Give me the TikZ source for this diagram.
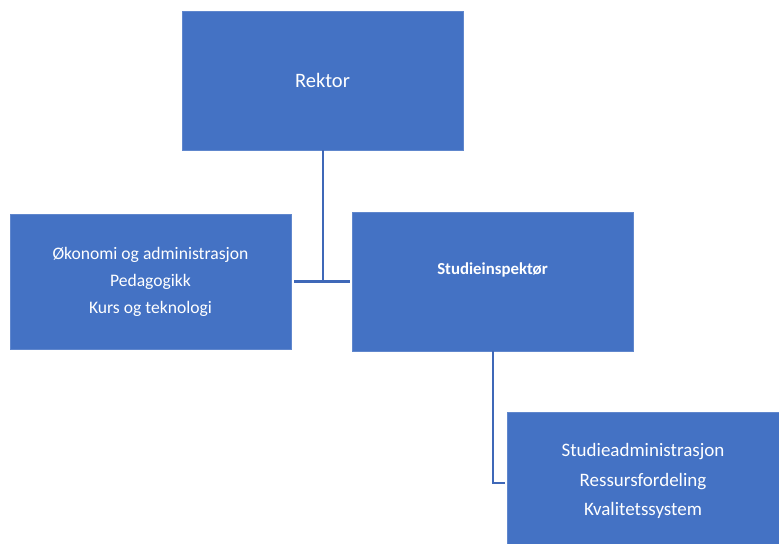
\documentclass[tikz,border=0pt]{standalone}
\usepackage{fontspec}
\setmainfont{Carlito}
\definecolor{boksblaa}{HTML}{4472C4}
\definecolor{linjeblaa}{HTML}{3F68B8}
\begin{document}
\begin{tikzpicture}[
    x=1bp, y=-1bp,
    boks/.style={
      fill=boksblaa,
      draw=boksblaa!85!white,
      line width=0.6bp,
      text=white,
      align=center,
      font=\fontsize{17.6bp}{27bp}\selectfont
    },
    linje/.style={
      draw=linjeblaa,
      line width=2bp
    }
  ]
    \useasboundingbox (0,0) rectangle (779,544);

    % boksene
    \node[boks, minimum width=281bp, minimum height=139bp,
      font=\fontsize{20.5bp}{24bp}\selectfont] (rektor) at (322.5,80.5) {Rektor};
    \node[boks, minimum width=281bp, minimum height=135bp] (stab) at (150.5,281.5)
      {Økonomi og administrasjon\\Pedagogikk\\Kurs og teknologi};
    \node[boks, minimum width=281bp, minimum height=139bp, text depth=26bp,
      font=\fontsize{16.8bp}{20bp}\selectfont\bfseries] (studie) at (492.5,281.5) {Studieinspektør};
    \node[boks, minimum width=272bp, minimum height=138bp,
      font=\fontsize{19bp}{29.5bp}\selectfont] (omraade) at (643,481)
      {Studieadministrasjon\\Ressursfordeling\\Kvalitetssystem};

    % linjene
    \draw[linje] (rektor.south) -- (rektor.south |- stab.east);
    \draw[linje] ([xshift=3bp]stab.east) -- ([xshift=-2bp]stab.east -| studie.west);
    \draw[linje] (studie.south) |- ([xshift=-2bp,yshift=-2bp]omraade.west);

  \end{tikzpicture}
\end{document}
